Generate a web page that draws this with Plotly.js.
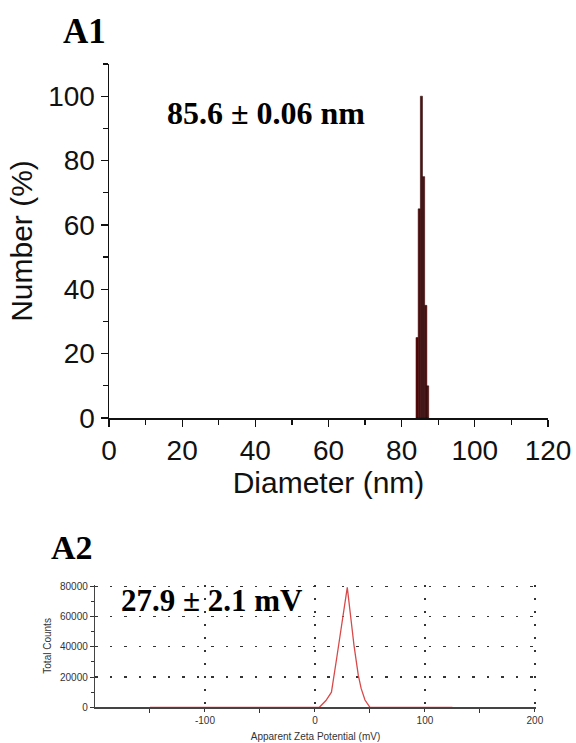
<!DOCTYPE html>
<html>
<head>
<meta charset="utf-8">
<script src="https://cdn.plot.ly/plotly-3.0.1.min.js"></script>
<style>html,body{margin:0;padding:0;background:#fff;}#chart{width:576px;height:743px;}</style>
</head>
<body>
<div id="chart"></div>
<script>
// A1: particle size distribution (number %)
const sizeDiameter = [84.2, 84.8, 85.4, 86.0, 86.6, 87.1];
const sizeNumber = [25, 65, 100, 75, 35, 10];
// A2: zeta potential distribution
const zetaPotential = [-150, 4, 10, 15, 20, 25, 29.4, 33, 35.5, 39.4, 42, 45.5, 50, 125];
const zetaCounts = [0, 0, 4500, 10000, 33600, 57900, 79300, 56700, 41000, 21250, 12500, 4800, 0, 0];
const xTicks1 = [0, 20, 40, 60, 80, 100, 120];
const yTicks1 = [0, 20, 40, 60, 80, 100];
const xTicks2 = [-100, 0, 100, 200];
const xTickText2 = ['-100', '0', '100', '200'];
const yTicks2 = [0, 20000, 40000, 60000, 80000];

const W = 576, H = 743;
const px = v => v / W;
const py = v => 1 - v / H;

const traces = [
  {
    type: 'bar', x: sizeDiameter, y: sizeNumber, width: 0.58,
    marker: {color: '#620c0c', line: {color: '#1a0000', width: 0.5}},
    xaxis: 'x', yaxis: 'y', hoverinfo: 'skip'
  },
  {
    type: 'scatter', mode: 'lines', x: zetaPotential, y: zetaCounts,
    line: {color: '#d84a4a', width: 1.3},
    xaxis: 'x2', yaxis: 'y2', hoverinfo: 'skip'
  }
];

const tickFont1 = {family: 'Liberation Sans, Arial, sans-serif', size: 28, color: '#111'};
const titleFont1 = {family: 'Liberation Sans, Arial, sans-serif', size: 30, color: '#111'};
const smallFont = {family: 'Liberation Sans, Arial, sans-serif', size: 10, color: '#333'};
const serifBold = s => ({family: 'Liberation Serif, Times New Roman, serif', size: s, color: '#000'});

const layout = {
  width: W, height: H,
  margin: {l: 0, r: 0, t: 0, b: 0},
  paper_bgcolor: '#fff', plot_bgcolor: 'rgba(0,0,0,0)',
  showlegend: false,
  bargap: 0,
  xaxis: {
    domain: [px(109), px(548)], anchor: 'y', range: [0, 120],
    tickvals: xTicks1, ticks: 'outside', ticklen: 7, tickwidth: 1.3, tickcolor: '#111',
    minor: {dtick: 10, tick0: 0, ticks: 'outside', ticklen: 5, tickwidth: 1.3, tickcolor: '#111', showgrid: false},
    showline: true, linecolor: '#111', linewidth: 1.5,
    showgrid: false, zeroline: false,
    tickfont: tickFont1,
    title: {text: 'Diameter (nm)', font: titleFont1, standoff: 2}
  },
  yaxis: {
    domain: [py(418), py(64)], anchor: 'x', range: [0, 110],
    tickvals: yTicks1, ticks: 'outside', ticklen: 7, tickwidth: 1.3, tickcolor: '#111',
    minor: {dtick: 10, tick0: 0, ticks: 'outside', ticklen: 5, tickwidth: 1.3, tickcolor: '#111', showgrid: false},
    showline: true, linecolor: '#111', linewidth: 1.5,
    showgrid: false, zeroline: false,
    tickfont: tickFont1,
    title: {text: 'Number (%)', font: titleFont1, standoff: 6}
  },
  xaxis2: {
    domain: [px(95), px(536)], anchor: 'y2', range: [-200, 201],
    tickvals: xTicks2, ticktext: xTickText2, ticks: 'outside', ticklen: 3, tickwidth: 1, tickcolor: '#333',
    minor: {tickvals: [-150, -50, 50, 150], ticks: 'outside', ticklen: 4, tickwidth: 1, tickcolor: '#333', showgrid: false},
    showline: true, linecolor: '#444', linewidth: 1.2,
    showgrid: true, gridcolor: '#333', gridwidth: 1.2, griddash: '2px,11px',
    zeroline: false,
    tickfont: smallFont,
    title: {text: 'Apparent Zeta Potential (mV)', font: smallFont, standoff: 8}
  },
  yaxis2: {
    domain: [py(707.3), py(584.5)], anchor: 'x2', range: [0, 81200],
    tickvals: yTicks2, ticks: 'outside', ticklen: 4, tickwidth: 1, tickcolor: '#333',
    minor: {dtick: 10000, tick0: 0, ticks: 'outside', ticklen: 3, tickwidth: 1, tickcolor: '#333', showgrid: false},
    showline: true, linecolor: '#444', linewidth: 1.2,
    showgrid: true, gridcolor: '#333', gridwidth: 1.2, griddash: '2.5px,12px',
    zeroline: false,
    tickformat: 'd',
    tickfont: smallFont,
    title: {text: 'Total Counts', font: smallFont, standoff: 6}
  },
  annotations: [
    {xref: 'paper', yref: 'paper', x: px(84), y: py(31), xanchor: 'center', yanchor: 'middle',
     text: '<b>A1</b>', showarrow: false, font: serifBold(35)},
    {xref: 'paper', yref: 'paper', x: px(266), y: py(113), xanchor: 'center', yanchor: 'middle',
     text: '<b>85.6 ± 0.06 nm</b>', showarrow: false, font: serifBold(32)},
    {xref: 'paper', yref: 'paper', x: px(72), y: py(547), xanchor: 'center', yanchor: 'middle',
     text: '<b>A2</b>', showarrow: false, font: serifBold(34)},
    {xref: 'paper', yref: 'paper', x: px(212), y: py(600), xanchor: 'center', yanchor: 'middle',
     text: '<b>27.9 ± 2.1 mV</b>', showarrow: false, font: serifBold(31)}
  ]
};

Plotly.newPlot('chart', traces, layout, {staticPlot: true, displayModeBar: false});
</script>
</body>
</html>
